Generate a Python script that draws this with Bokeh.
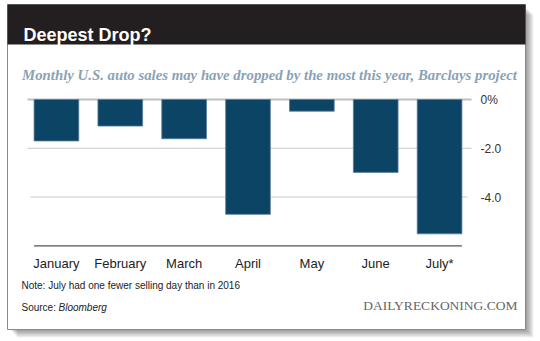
from bokeh.plotting import figure
from bokeh.models import Range1d
from bokeh.core.properties import value
from bokeh.embed import file_html
from bokeh.resources import INLINE

# ---- data ----
months = ["January", "February", "March", "April", "May", "June", "July*"]
change = [-1.70, -1.09, -1.61, -4.71, -0.48, -2.99, -5.51]
y_ticks = [0, -2, -4]
y_tick_labels = ["0%", "-2.0", "-4.0"]
y_floor = -6

title_text = "Deepest Drop?"
subtitle_text = "Monthly U.S. auto sales may have dropped by the most this year, Barclays project"
note_text = "Note: July had one fewer selling day than in 2016"
source_prefix = "Source: "
source_name = "Bloomberg"
brand_text = "DAILYRECKONING.COM"

# ---- geometry (canvas pixels) ----
W, H = 540, 341
PLOT_L, PLOT_R = 24, 471        # category band extent
ZERO_PX, FLOOR_PX = 99, 245.3   # pixel rows of 0 and of y_floor
n = len(months)
ux = (PLOT_R - PLOT_L) / n
uy = (FLOOR_PX - ZERO_PX) / (-y_floor)

p = figure(width=W, height=H, output_backend="svg", toolbar_location=None,
           x_range=Range1d(0, W), y_range=Range1d(H, 0),
           x_axis_location=None, y_axis_location=None,
           min_border=0, min_border_left=0, min_border_right=0,
           min_border_top=0, min_border_bottom=0)
p.outline_line_color = None
p.background_fill_color = "white"
p.border_fill_color = "white"
p.xgrid.visible = False
p.ygrid.visible = False

# chart scales: categories (band units) and values (percent)
p.extra_x_ranges = {"cat": Range1d(-PLOT_L / ux, (W - PLOT_L) / ux)}
p.extra_y_ranges = {"val": Range1d(-(H - ZERO_PX) / uy, ZERO_PX / uy)}

def cx(px):
    return (px - PLOT_L) / ux

xs = [i + 0.5 for i in range(n)]

# ---- card shadow ----
for k in range(1, 9):
    p.quad(left=[525], right=[525 + k], top=[4 + k + 2], bottom=[329 + k],
           fill_color="black", fill_alpha=0.055, line_color=None)
    p.quad(left=[7 + k + 2], right=[525], top=[329], bottom=[329 + k],
           fill_color="black", fill_alpha=0.055, line_color=None)

# ---- card border ----
p.quad(left=[7], right=[525], top=[4], bottom=[329], fill_color="white",
       line_color="#8a8a8a", line_width=1)

# ---- header ----
p.quad(left=[7], right=[525], top=[4], bottom=[44], fill_color="#231f20", line_color=None)
p.text(x=[23], y=[34], text=[title_text], text_font=value("Liberation Sans"),
       text_font_style="bold", text_font_size="18px", text_color="white",
       text_baseline="alphabetic")

p.text(x=[269], y=[74.5], text=[subtitle_text], text_font=value("Liberation Serif"),
       text_font_style="bold italic", text_font_size="14.8px", text_color="#8aa2b6",
       text_align="center", text_baseline="alphabetic")

# ---- grid lines ----
grid_x0 = [cx(27), cx(27), cx(30)]
grid_x1 = [cx(471), cx(471), cx(467)]
p.segment(x0=grid_x0[1:], x1=grid_x1[1:], y0=y_ticks[1:], y1=y_ticks[1:],
          x_range_name="cat", y_range_name="val", line_color="#c8c8c8", line_width=1)
p.segment(x0=grid_x0[:1], x1=grid_x1[:1], y0=y_ticks[:1], y1=y_ticks[:1],
          x_range_name="cat", y_range_name="val", line_color="#c0c0c0", line_width=2)

# ---- bars ----
p.vbar(x=xs, top=0, bottom=change, width=0.70, x_range_name="cat", y_range_name="val",
       fill_color="#0b4464", line_color="#5b7f9a", line_width=0.8)

# ---- baseline ----
p.segment(x0=[xs[0] - 0.35], x1=[xs[-1] + 0.35], y0=[y_floor], y1=[y_floor],
          x_range_name="cat", y_range_name="val", line_color="#555555", line_width=1.3)

# ---- axis labels ----
p.text(x=xs, y=[263] * n, text=months, x_range_name="cat",
       text_font=value("Liberation Sans"), text_font_size="13px", text_color="#222222",
       text_align="center", text_baseline="middle")
p.text(x=[480] * len(y_ticks), y=y_ticks, text=y_tick_labels, y_range_name="val",
       text_font=value("Liberation Sans"), text_font_size="12px", text_color="#333333",
       text_align="left", text_baseline="middle")

# ---- footer ----
p.text(x=[21], y=[285], text=[note_text], text_font=value("Liberation Sans"),
       text_font_size="10px", text_color="#222222", text_baseline="middle")
p.text(x=[21], y=[307], text=[source_prefix], text_font=value("Liberation Sans"),
       text_font_size="10px", text_color="#222222", text_baseline="middle")
p.text(x=[58], y=[307], text=[source_name], text_font=value("Liberation Sans"),
       text_font_style="italic", text_font_size="10px", text_color="#222222",
       text_baseline="middle")
p.text(x=[517], y=[305], text=[brand_text], text_font=value("Liberation Serif"),
       text_font_size="13.5px", text_color="#666666", text_align="right",
       text_baseline="middle")

open("out.html", "w").write(file_html(p, INLINE))
